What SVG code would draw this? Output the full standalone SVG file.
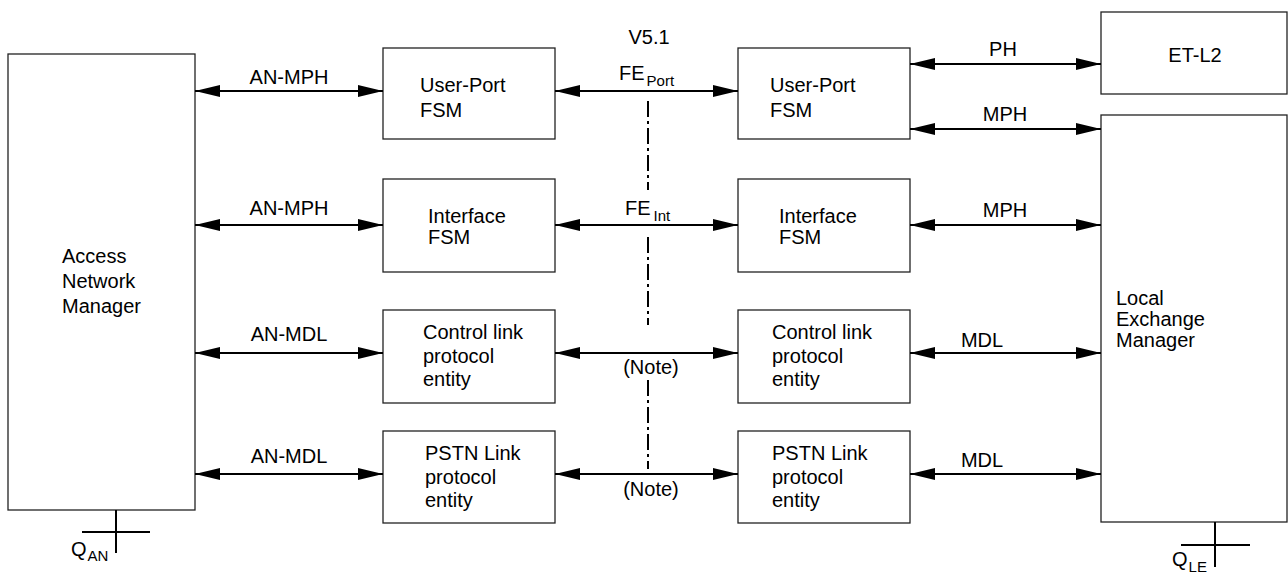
<svg xmlns="http://www.w3.org/2000/svg" width="1288" height="574" viewBox="0 0 1288 574">
<defs>
<style>
.box{fill:#fff;stroke:#222;stroke-width:1.3}
.t{font-family:"Liberation Sans",Arial,sans-serif;font-size:20px;fill:#000}
.m{text-anchor:middle}
.sub{font-size:15px}
.con{stroke:#000;stroke-width:2;fill:none}
.arr{stroke:#000;stroke-width:2.2;fill:none;marker-start:url(#ah);marker-end:url(#ah)}
.dd{stroke:#000;stroke-width:2;fill:none;stroke-dasharray:16 4 3 4}
</style>
<marker id="ah" markerUnits="userSpaceOnUse" markerWidth="26" markerHeight="14" refX="25" refY="6.5" orient="auto-start-reverse">
<path d="M0,0.5 L25,6.5 L0,12.5 z" fill="#000"/>
</marker>
</defs>
<rect width="1288" height="574" fill="#fff"/>

<g id="access-network-manager">
<rect class="box" x="8" y="54" width="187" height="456"/>
<text class="t" x="62" y="263">Access</text>
<text class="t" x="62" y="288">Network</text>
<text class="t" x="62" y="313">Manager</text>
</g>

<g id="an-userport-fsm">
<rect class="box" x="383" y="48" width="172" height="91"/>
<text class="t" x="420" y="92">User-Port</text>
<text class="t" x="420" y="117">FSM</text>
</g>
<g id="an-interface-fsm">
<rect class="box" x="383" y="179" width="172" height="93"/>
<text class="t" x="428" y="223">Interface</text>
<text class="t" x="428" y="244">FSM</text>
</g>
<g id="an-control-link">
<rect class="box" x="383" y="310" width="172" height="93"/>
<text class="t" x="423" y="339">Control link</text>
<text class="t" x="423" y="363">protocol</text>
<text class="t" x="423" y="386">entity</text>
</g>
<g id="an-pstn-link">
<rect class="box" x="383" y="431" width="172" height="92"/>
<text class="t" x="425" y="460">PSTN Link</text>
<text class="t" x="425" y="484">protocol</text>
<text class="t" x="425" y="507">entity</text>
</g>

<g id="le-userport-fsm">
<rect class="box" x="738" y="48" width="172" height="91"/>
<text class="t" x="770" y="92">User-Port</text>
<text class="t" x="770" y="117">FSM</text>
</g>
<g id="le-interface-fsm">
<rect class="box" x="738" y="179" width="172" height="93"/>
<text class="t" x="779" y="223">Interface</text>
<text class="t" x="779" y="244">FSM</text>
</g>
<g id="le-control-link">
<rect class="box" x="738" y="310" width="172" height="93"/>
<text class="t" x="772" y="339">Control link</text>
<text class="t" x="772" y="363">protocol</text>
<text class="t" x="772" y="386">entity</text>
</g>
<g id="le-pstn-link">
<rect class="box" x="738" y="431" width="172" height="92"/>
<text class="t" x="772" y="460">PSTN Link</text>
<text class="t" x="772" y="484">protocol</text>
<text class="t" x="772" y="507">entity</text>
</g>

<g id="et-l2">
<rect class="box" x="1101" y="12" width="186" height="82"/>
<text class="t m" x="1195" y="62">ET-L2</text>
</g>
<g id="local-exchange-manager">
<rect class="box" x="1101" y="115" width="186" height="407"/>
<text class="t" x="1116" y="305">Local</text>
<text class="t" x="1116" y="326">Exchange</text>
<text class="t" x="1116" y="347">Manager</text>
</g>

<g id="connectors">
<line class="arr" x1="195" y1="91" x2="383" y2="91"/>
<line class="arr" x1="195" y1="225" x2="383" y2="225"/>
<line class="arr" x1="195" y1="353" x2="383" y2="353"/>
<line class="arr" x1="195" y1="474" x2="383" y2="474"/>
<line class="arr" x1="555" y1="91" x2="738" y2="91"/>
<line class="arr" x1="555" y1="225" x2="738" y2="225"/>
<line class="arr" x1="555" y1="353" x2="738" y2="353"/>
<line class="arr" x1="555" y1="474" x2="738" y2="474"/>
<line class="arr" x1="910" y1="64" x2="1101" y2="64"/>
<line class="arr" x1="910" y1="129" x2="1101" y2="129"/>
<line class="arr" x1="910" y1="225" x2="1101" y2="225"/>
<line class="arr" x1="910" y1="353" x2="1101" y2="353"/>
<line class="arr" x1="910" y1="474" x2="1101" y2="474"/>

<line class="dd" x1="648" y1="101" x2="648" y2="190"/>
<line class="dd" x1="648" y1="237" x2="648" y2="325"/>
<line class="dd" x1="648" y1="380" x2="648" y2="469"/>

<line class="con" x1="116" y1="510" x2="116" y2="553"/>
<line class="con" x1="82" y1="532" x2="150" y2="532"/>
<line class="con" x1="1215" y1="522" x2="1215" y2="567"/>
<line class="con" x1="1181" y1="545" x2="1250" y2="545"/>

<text class="t m" x="289" y="84">AN-MPH</text>
<text class="t m" x="289" y="215">AN-MPH</text>
<text class="t m" x="289" y="341">AN-MDL</text>
<text class="t m" x="289" y="463">AN-MDL</text>
<text class="t m" x="649" y="44">V5.1</text>
<text class="t" x="619" y="80">FE<tspan class="sub" dx="2" dy="6">Port</tspan></text>
<text class="t" x="625" y="215">FE<tspan class="sub" dx="3" dy="6">Int</tspan></text>
<text class="t m" x="651" y="374">(Note)</text>
<text class="t m" x="651" y="496">(Note)</text>
<text class="t m" x="1003" y="56">PH</text>
<text class="t m" x="1005" y="121">MPH</text>
<text class="t m" x="1005" y="217">MPH</text>
<text class="t m" x="982" y="347">MDL</text>
<text class="t m" x="982" y="467">MDL</text>
<text class="t" x="71" y="556">Q<tspan class="sub" dx="1" dy="5">AN</tspan></text>
<text class="t" x="1172" y="566">Q<tspan class="sub" dx="1" dy="6">LE</tspan></text>
</g>
</svg>
